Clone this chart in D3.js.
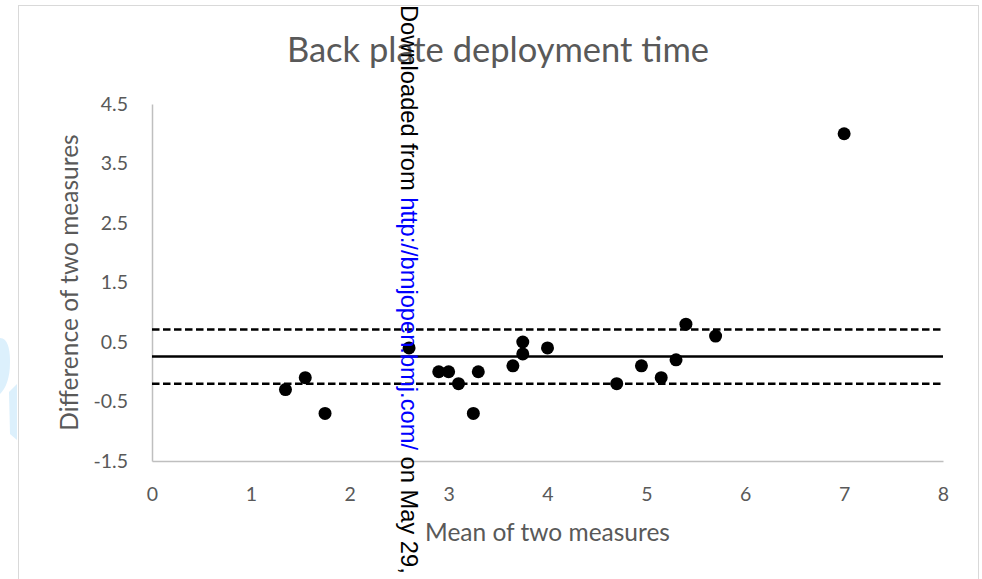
<!DOCTYPE html>
<html>
<head>
<meta charset="utf-8">
<script src="https://cdn.jsdelivr.net/npm/d3@7"></script>
<style>
  html, body { margin: 0; padding: 0; background: #ffffff; }
  svg { display: block; }
</style>
</head>
<body>
<svg id="chart" width="982" height="579"></svg>
<script>
// Bland–Altman data: mean of the two measures vs their difference
const meanValues = [1.35, 1.55, 1.75, 2.6, 2.9, 3.0, 3.1, 3.25, 3.3, 3.65,
                    3.75, 3.75, 4.0, 4.7, 4.95, 5.15, 5.3, 5.4, 5.7, 7.0];
const diffValues = [-0.3, -0.1, -0.7, 0.4, 0.0, 0.0, -0.2, -0.7, 0.0, 0.1,
                    0.5, 0.3, 0.4, -0.2, 0.1, -0.1, 0.2, 0.8, 0.6, 4.0];

// Bias and limits of agreement
const biasLine = [0.255];
const limitLines = [0.71, -0.2];

const xTicks = [0, 1, 2, 3, 4, 5, 6, 7, 8];
const yTicks = [-1.5, -0.5, 0.5, 1.5, 2.5, 3.5, 4.5];

const titleText = "Back plate deployment time";
const xTitle = "Mean of two measures";
const yTitle = "Difference of two measures";

const svg = d3.select("#chart");
const textFont = "Lato, 'Open Sans', sans-serif";
const textColor = "#595959";

// faint logo fragment at the left edge
svg.append("path")
  .attr("d", "M0,338 C8,338 10,350 10,362 C10,378 6,388 0,394 Z")
  .attr("fill", "#dcf0fc");
svg.append("path")
  .attr("d", "M9,392 L17,384 L17,440 L10,434 Z")
  .attr("fill", "#dcf0fc");

// chart area frame
svg.append("rect")
  .attr("x", 18.5).attr("y", 5.5)
  .attr("width", 960).attr("height", 600)
  .attr("fill", "none")
  .attr("stroke", "#d9d9d9")
  .attr("stroke-width", 1);

const x = d3.scaleLinear().domain([0, 8]).range([152, 943]);
const y = d3.scaleLinear().domain([-1.5, 4.5]).range([461, 104]);

// tick labels use a plain hyphen for negatives
const fmtY = d => d.toFixed(1);

// axes
const gx = svg.append("g")
  .attr("transform", `translate(0,${y(-1.5)})`)
  .call(d3.axisBottom(x).tickValues(xTicks).tickSize(0).tickPadding(26)
        .tickFormat(d => String(d)));
const gy = svg.append("g")
  .attr("transform", `translate(${x(0)},0)`)
  .call(d3.axisLeft(y).tickValues(yTicks).tickSize(0).tickPadding(24)
        .tickFormat(fmtY));

[gx, gy].forEach(g => {
  g.select(".domain").attr("stroke", "#bfbfbf").attr("stroke-width", 1.5);
  g.selectAll("text")
    .attr("fill", textColor)
    .style("font-family", textFont)
    .style("font-size", "19.5px");
});

// bias and limit lines
svg.selectAll("line.bias")
  .data(biasLine)
  .join("line")
  .attr("class", "bias")
  .attr("x1", x(0)).attr("x2", x(8))
  .attr("y1", d => y(d)).attr("y2", d => y(d))
  .attr("stroke", "#000").attr("stroke-width", 2.5);

svg.selectAll("line.limit")
  .data(limitLines)
  .join("line")
  .attr("class", "limit")
  .attr("x1", x(0)).attr("x2", x(8))
  .attr("y1", d => y(d)).attr("y2", d => y(d))
  .attr("stroke", "#000").attr("stroke-width", 2.5)
  .attr("stroke-dasharray", "7.5,3.5");

// points
svg.selectAll("circle.pt")
  .data(meanValues.map((m, i) => ({ m, d: diffValues[i] })))
  .join("circle")
  .attr("class", "pt")
  .attr("cx", p => x(p.m))
  .attr("cy", p => y(p.d))
  .attr("r", 6.5)
  .attr("fill", "#000");

// titles
svg.append("text")
  .attr("x", 498).attr("y", 62)
  .attr("text-anchor", "middle")
  .attr("fill", textColor)
  .style("font-family", textFont)
  .style("font-size", "34.5px")
  .text(titleText);

svg.append("text")
  .attr("x", x(4)).attr("y", 541)
  .attr("text-anchor", "middle")
  .attr("fill", textColor)
  .style("font-family", textFont)
  .style("font-size", "24.5px")
  .text(xTitle);

svg.append("text")
  .attr("transform", `translate(78,${(y(-1.5) + y(4.5)) / 2}) rotate(-90)`)
  .attr("text-anchor", "middle")
  .attr("fill", textColor)
  .style("font-family", textFont)
  .style("font-size", "24.5px")
  .text(yTitle);

// vertical download stamp
const stamp = svg.append("text")
  .attr("transform", "translate(401,5) rotate(90)")
  .style("font-family", "'Liberation Sans', Arial, sans-serif")
  .style("font-size", "23.7px");
stamp.append("tspan").attr("fill", "#000").text("Downloaded from ");
stamp.append("tspan").attr("fill", "#0000ff").text("http://bmjopen.bmj.com/");
stamp.append("tspan").attr("fill", "#000").text(" on May 29,");
</script>
</body>
</html>
